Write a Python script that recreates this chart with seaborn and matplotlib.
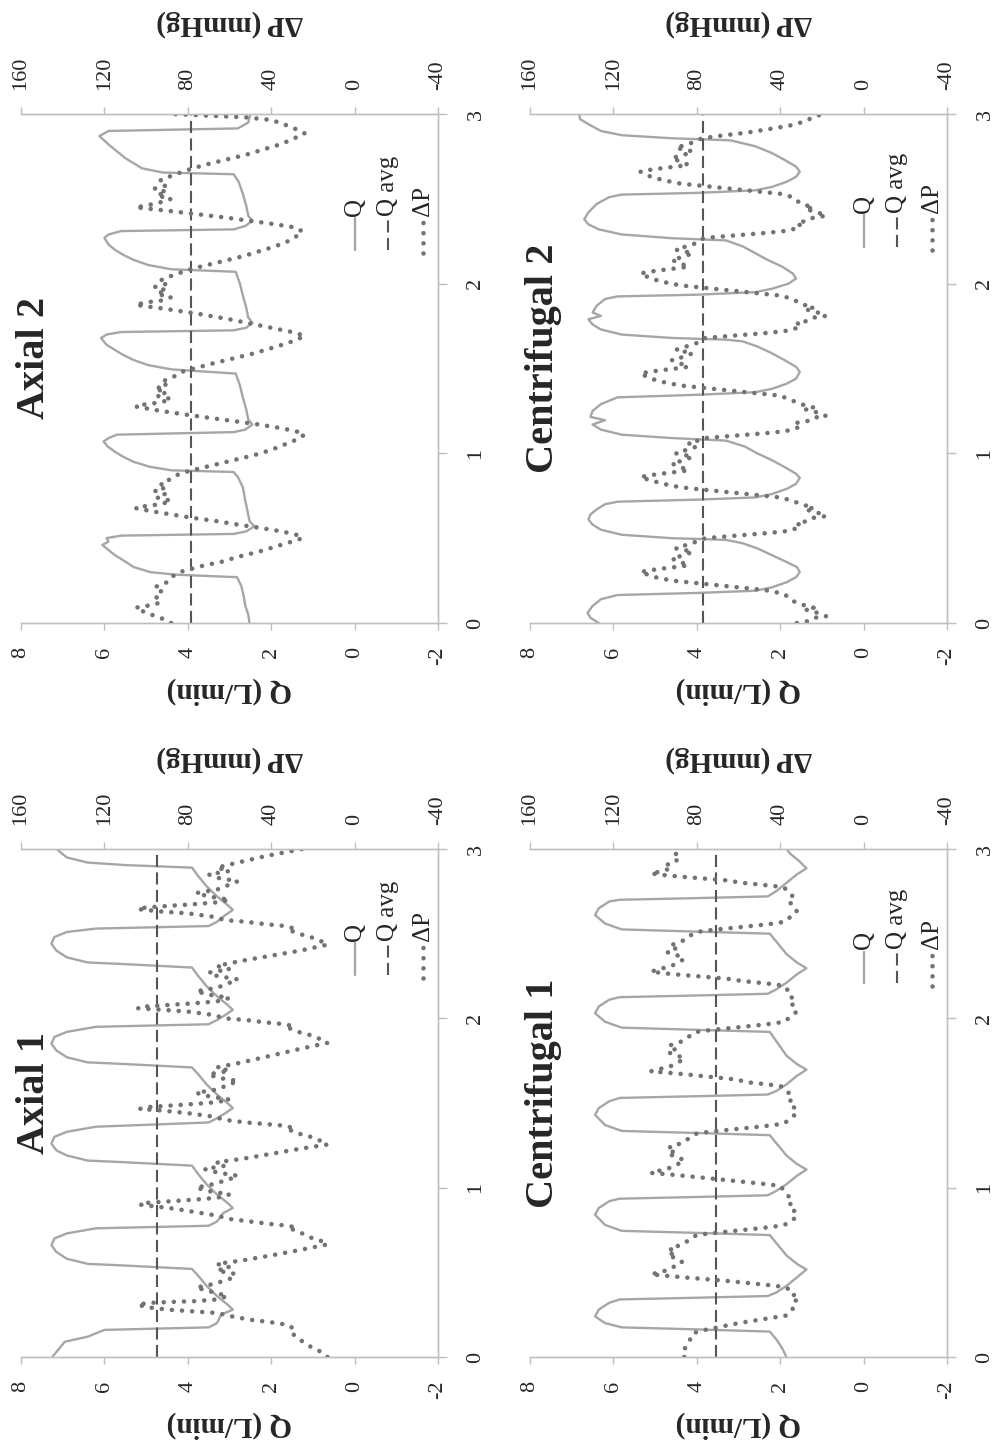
import matplotlib
matplotlib.use('Agg')
import matplotlib.pyplot as plt
import seaborn as sns

# ---------------- data ----------------
panel_titles = ['Axial 1', 'Axial 2', 'Centrifugal 1', 'Centrifugal 2']
q_avg = [4.75, 3.92, 3.53, 3.85]

q_ticks = [8, 6, 4, 2, 0, -2]
dp_ticks = [160, 120, 80, 40, 0, -40]
t_ticks = [0, 1, 2, 3]

# Axial 1
t_q_ax1 = [0.00, 0.03, 0.09, 0.12, 0.16, 0.175, 0.20, 0.25, 0.28, 0.31, 0.36, 0.42, 0.48, 0.52, 0.54, 0.55,
           0.58, 0.62, 0.66, 0.70, 0.73, 0.76, 0.775,
           0.80, 0.85, 0.88, 0.91, 0.96, 1.02, 1.08, 1.13, 1.15, 1.16, 1.19, 1.22, 1.26, 1.30, 1.33, 1.36, 1.385,
           1.41, 1.44, 1.47, 1.50, 1.55, 1.61, 1.67, 1.71, 1.73, 1.74, 1.77, 1.81, 1.85, 1.89, 1.92, 1.95, 1.965,
           1.99, 2.02, 2.05, 2.08, 2.13, 2.19, 2.25, 2.30, 2.32, 2.33, 2.36, 2.40, 2.44, 2.48, 2.51, 2.53, 2.545,
           2.57, 2.61, 2.64, 2.67, 2.72, 2.78, 2.84, 2.89, 2.905, 2.92, 2.95, 3.00]
q_ax1 = [7.25, 7.15, 6.95, 6.4, 6.0, 3.5, 3.3, 3.2, 2.92, 3.05, 3.3, 3.55, 3.75, 3.9, 5.5, 6.4,
         6.9, 7.15, 7.27, 7.2, 6.9, 6.2, 3.5,
         3.3, 3.15, 2.92, 3.05, 3.3, 3.55, 3.75, 3.9, 5.5, 6.4, 6.9, 7.15, 7.27, 7.2, 6.9, 6.2, 3.5,
         3.3, 3.1, 2.92, 3.05, 3.3, 3.55, 3.75, 3.9, 5.5, 6.4, 6.9, 7.15, 7.27, 7.2, 6.9, 6.2, 3.5,
         3.3, 3.1, 2.92, 3.05, 3.3, 3.55, 3.75, 3.9, 5.5, 6.4, 6.9, 7.15, 7.27, 7.2, 6.9, 6.2, 3.5,
         3.3, 3.1, 2.92, 3.05, 3.3, 3.55, 3.75, 3.9, 5.5, 6.4, 6.9, 7.15]
t_dp_ax1 = [0.00, 0.03, 0.06, 0.10, 0.14, 0.165, 0.19, 0.205, 0.22, 0.24, 0.26, 0.27, 0.28, 0.295, 0.31, 0.32,
            0.325, 0.33, 0.34, 0.36, 0.39, 0.41, 0.43, 0.46, 0.49, 0.51, 0.53, 0.55, 0.57, 0.60, 0.63, 0.665,
            0.685, 0.705, 0.735, 0.755, 0.765, 0.775, 0.785, 0.80, 0.815, 0.835, 0.855, 0.875, 0.89, 0.90, 0.91,
            0.92, 0.93, 0.94, 0.96, 0.98, 1.00, 1.02, 1.05, 1.07, 1.09, 1.11, 1.13, 1.15, 1.17, 1.20, 1.23, 1.255,
            1.275, 1.30, 1.32, 1.34, 1.35, 1.365, 1.375, 1.385, 1.40, 1.42, 1.44, 1.455, 1.465, 1.475, 1.485,
            1.495, 1.505, 1.52, 1.54, 1.56, 1.58, 1.61, 1.63, 1.65, 1.67, 1.69, 1.71, 1.74, 1.78, 1.82, 1.855,
            1.875, 1.90, 1.92, 1.94, 1.95, 1.965, 1.975, 1.99, 2.00, 2.02, 2.04, 2.05, 2.06, 2.07, 2.08, 2.09,
            2.10, 2.12, 2.14, 2.16, 2.18, 2.21, 2.23, 2.25, 2.27, 2.29, 2.31, 2.34, 2.37, 2.40, 2.435,
            2.455, 2.48, 2.50, 2.52, 2.53, 2.545, 2.555, 2.57, 2.58, 2.60, 2.62, 2.63, 2.645, 2.655, 2.665,
            2.675, 2.685, 2.70, 2.72, 2.74, 2.76, 2.79, 2.81, 2.83, 2.85, 2.87, 2.89, 2.92, 2.96, 3.00]
dp_ax1 = [13, 16, 21, 26, 30, 29, 32, 40, 50, 59, 66, 78, 90, 100, 104, 98,
          88, 76, 66, 61, 70, 76, 68, 60, 57, 66, 60, 66, 54, 40, 27, 13,
          16, 21, 26, 30, 28, 32, 40, 50, 60, 66, 76, 86, 96, 103, 100,
          88, 76, 66, 60, 70, 76, 68, 60, 56, 66, 72, 62, 66, 54, 40, 26, 13,
          16, 21, 27, 31, 29, 33, 42, 52, 62, 68, 80, 92, 103, 100, 88,
          76, 66, 60, 70, 76, 66, 60, 56, 66, 70, 60, 66, 54, 40, 26, 13,
          16, 21, 27, 31, 29, 33, 42, 52, 62, 68, 80, 92, 104, 100, 88, 76,
          66, 60, 70, 76, 66, 60, 56, 66, 70, 60, 66, 54, 40, 26, 13,
          16, 21, 27, 31, 29, 33, 42, 52, 62, 68, 80, 92, 104, 100, 88,
          76, 66, 60, 70, 76, 66, 60, 56, 66, 70, 60, 66, 56, 42, 25]

# Axial 2
t_q_ax2 = [0.00, 0.05, 0.10, 0.16, 0.22, 0.27, 0.285, 0.30, 0.33, 0.37, 0.40, 0.43, 0.46, 0.48, 0.50, 0.515,
           0.525, 0.54, 0.57, 0.60, 0.65, 0.72, 0.80, 0.86, 0.89, 0.90, 0.92, 0.95, 0.98, 1.01, 1.04, 1.07,
           1.09, 1.11, 1.125, 1.14, 1.17, 1.20, 1.26, 1.33, 1.40, 1.47, 1.495, 1.52, 1.55, 1.58, 1.61, 1.64,
           1.68, 1.70, 1.715, 1.725, 1.74, 1.77, 1.80, 1.86, 1.93, 2.00, 2.07, 2.085, 2.11, 2.14, 2.17, 2.20,
           2.23, 2.27, 2.29, 2.31, 2.32, 2.34, 2.37, 2.40, 2.46, 2.53, 2.60, 2.645, 2.655, 2.68, 2.71, 2.74,
           2.78, 2.82, 2.87, 2.90, 2.915, 2.95, 3.00]
q_ax2 = [2.52, 2.55, 2.62, 2.66, 2.72, 2.82, 4.3, 4.9, 5.3, 5.55, 5.75, 5.9, 6.05, 5.9, 5.95, 5.6,
         2.9, 2.6, 2.4, 2.52, 2.56, 2.62, 2.68, 2.8, 2.9, 4.4, 4.9, 5.3, 5.55, 5.75, 5.92, 6.02,
         5.9, 5.7, 2.9, 2.62, 2.45, 2.55, 2.6, 2.68, 2.75, 2.85, 4.4, 4.95, 5.3, 5.55, 5.75, 5.95,
         6.08, 5.95, 5.6, 2.9, 2.6, 2.45, 2.55, 2.6, 2.68, 2.75, 2.85, 4.4, 4.95, 5.3, 5.55, 5.75,
         5.9, 6.0, 5.9, 5.6, 2.9, 2.62, 2.45, 2.55, 2.6, 2.68, 2.78, 2.9, 4.6, 5.1, 5.3, 5.5,
         5.7, 5.9, 6.12, 5.9, 2.8, 2.55, 2.5]
t_dp_ax2 = [0.00, 0.03, 0.06, 0.09, 0.10, 0.12, 0.15, 0.18, 0.21, 0.24,
            0.27, 0.30, 0.32, 0.34, 0.36, 0.39, 0.42, 0.45, 0.48, 0.50,
            0.52, 0.54, 0.56, 0.58, 0.60, 0.62, 0.64, 0.66, 0.677, 0.69,
            0.70, 0.72, 0.74, 0.76, 0.78, 0.80, 0.82, 0.85, 0.88, 0.90,
            0.93, 0.96, 0.99, 1.02, 1.05, 1.08, 1.11, 1.13, 1.15, 1.17,
            1.19, 1.21, 1.23, 1.25, 1.276, 1.29, 1.30, 1.32, 1.34, 1.36,
            1.38, 1.40, 1.42, 1.45, 1.48, 1.50, 1.53, 1.56, 1.59, 1.62,
            1.65, 1.69, 1.71, 1.73, 1.76, 1.79, 1.82, 1.85, 1.875, 1.89,
            1.90, 1.92, 1.94, 1.96, 1.98, 2.00, 2.02, 2.05, 2.08, 2.10,
            2.13, 2.16, 2.19, 2.22, 2.26, 2.307, 2.33, 2.35, 2.37, 2.39,
            2.41, 2.43, 2.45, 2.46, 2.48, 2.50, 2.52, 2.54, 2.56, 2.58,
            2.61, 2.64, 2.67, 2.70, 2.73, 2.76, 2.79, 2.82, 2.85, 2.886,
            2.91, 2.94, 2.965, 2.98, 2.99, 3.00]
dp_ax2 = [88, 93, 100, 105, 100, 93, 95, 92, 96, 90,
          88, 84, 78, 72, 64, 56, 46, 38, 30, 25,
          28, 35, 45, 56, 66, 78, 88, 98, 105, 100,
          93, 88, 95, 91, 96, 90, 93, 88, 84, 78,
          68, 58, 48, 40, 34, 28, 24, 28, 36, 46,
          58, 70, 82, 93, 105, 100, 93, 88, 95, 90,
          96, 90, 93, 87, 83, 77, 68, 58, 48, 40,
          32, 24, 28, 36, 48, 60, 74, 90, 105, 100,
          93, 88, 95, 90, 96, 90, 93, 87, 80, 74,
          64, 54, 46, 38, 30, 25, 28, 38, 50, 62,
          76, 90, 105, 100, 93, 88, 95, 90, 96, 90,
          93, 87, 80, 72, 62, 52, 44, 36, 30, 24,
          28, 34, 40, 52, 70, 88]

# Centrifugal 1
t_q_c1 = [0.00, 0.05, 0.10, 0.15, 0.163, 0.175, 0.20, 0.24, 0.28, 0.32,
          0.34, 0.35, 0.36, 0.38, 0.42, 0.47, 0.517, 0.55, 0.60, 0.66,
          0.72, 0.733, 0.745, 0.78, 0.84, 0.88, 0.92, 0.935, 0.945, 0.955,
          0.98, 1.02, 1.07, 1.107, 1.14, 1.19, 1.25, 1.31, 1.323, 1.335,
          1.37, 1.43, 1.47, 1.51, 1.53, 1.54, 1.55, 1.57, 1.61, 1.66,
          1.697, 1.73, 1.78, 1.85, 1.92, 1.932, 1.945, 1.98, 2.03, 2.07,
          2.11, 2.125, 2.135, 2.145, 2.17, 2.21, 2.26, 2.296, 2.33, 2.38,
          2.44, 2.50, 2.512, 2.525, 2.56, 2.61, 2.65, 2.69, 2.70, 2.71,
          2.72, 2.75, 2.80, 2.85, 2.886, 2.93, 2.97, 3.00]
q_c1 = [1.85, 1.95, 2.08, 2.25, 4.0, 5.8, 6.2, 6.44, 6.35, 6.1,
        5.85, 4.0, 2.3, 2.1, 1.85, 1.6, 1.37, 1.6, 1.85, 2.05,
        2.25, 4.0, 5.8, 6.2, 6.44, 6.35, 6.1, 5.85, 4.0, 2.3,
        2.1, 1.85, 1.6, 1.37, 1.6, 1.85, 2.05, 2.25, 4.0, 5.8,
        6.2, 6.44, 6.35, 6.1, 5.85, 4.0, 2.3, 2.1, 1.85, 1.6,
        1.37, 1.6, 1.85, 2.05, 2.25, 4.0, 5.8, 6.2, 6.44, 6.35,
        6.1, 5.85, 4.0, 2.3, 2.1, 1.85, 1.6, 1.37, 1.6, 1.85,
        2.05, 2.25, 4.0, 5.8, 6.2, 6.44, 6.35, 6.1, 5.85, 4.0,
        2.3, 2.1, 1.85, 1.6, 1.37, 1.55, 1.75, 1.85]
t_dp_c1 = [0.00, 0.03, 0.08, 0.14, 0.16, 0.18, 0.20, 0.22, 0.235, 0.245, 0.27, 0.30, 0.33, 0.35, 0.37, 0.41,
           0.42, 0.43, 0.44, 0.45, 0.46, 0.47, 0.48, 0.488,
           0.50, 0.51, 0.52, 0.54, 0.56, 0.58, 0.60, 0.62, 0.64, 0.66, 0.68, 0.70, 0.72, 0.73, 0.74, 0.75,
           0.76, 0.77, 0.78, 0.80, 0.83, 0.86, 0.89, 0.92, 0.95, 0.98, 1.01, 1.02, 1.03, 1.04, 1.05, 1.06,
           1.07, 1.08, 1.087,
           1.10, 1.11, 1.12, 1.14, 1.16, 1.18, 1.20, 1.22, 1.24, 1.26, 1.28, 1.30, 1.32, 1.33, 1.34, 1.35,
           1.36, 1.37, 1.38, 1.41, 1.44, 1.47, 1.50, 1.53, 1.56, 1.59, 1.60, 1.61, 1.62, 1.64, 1.65, 1.66,
           1.67, 1.68, 1.687,
           1.70, 1.71, 1.72, 1.74, 1.76, 1.78, 1.80, 1.82, 1.84, 1.86, 1.88, 1.90, 1.92, 1.93, 1.94, 1.95,
           1.96, 1.97, 1.98, 2.01, 2.04, 2.07, 2.10, 2.13, 2.16, 2.19, 2.20, 2.21, 2.22, 2.235, 2.245, 2.255,
           2.265, 2.276,
           2.29, 2.30, 2.31, 2.33, 2.35, 2.37, 2.39, 2.41, 2.43, 2.45, 2.47, 2.49, 2.51, 2.52, 2.53, 2.54,
           2.55, 2.56, 2.57, 2.60, 2.63, 2.66, 2.69, 2.72, 2.75, 2.77, 2.78, 2.79, 2.80, 2.815, 2.825, 2.835,
           2.845, 2.856,
           2.87, 2.89, 2.91, 2.93, 2.95, 2.97, 3.00]
dp_c1 = [86, 87, 84, 82, 76, 68, 60, 50, 42, 37, 35, 33, 32, 35, 33, 37,
         42, 50, 58, 66, 76, 86, 95, 102,
         98, 95, 93, 90, 87, 89, 94, 90, 93, 88, 85, 83, 80, 74, 66, 58,
         50, 43, 38, 35, 32, 33, 36, 34, 36, 38, 40, 46, 54, 62, 70, 78,
         86, 95, 102,
         98, 95, 92, 89, 86, 89, 94, 90, 93, 88, 85, 83, 80, 74, 66, 58,
         50, 43, 38, 35, 32, 33, 36, 34, 36, 38, 40, 46, 54, 62, 70, 78,
         86, 95, 102,
         98, 95, 92, 89, 86, 89, 94, 90, 93, 88, 85, 83, 80, 74, 66, 58,
         50, 43, 38, 35, 32, 33, 36, 34, 36, 38, 42, 50, 58, 66, 76, 86,
         95, 102,
         98, 95, 92, 89, 86, 89, 94, 90, 93, 88, 85, 83, 80, 74, 66, 58,
         50, 43, 38, 35, 32, 33, 36, 34, 36, 38, 42, 50, 58, 66, 76, 86,
         95, 102,
         96, 92, 94, 90, 88, 90, 90]

# Centrifugal 2
t_q_c2 = [0.00, 0.03, 0.06, 0.10, 0.14, 0.165, 0.177, 0.19, 0.21, 0.24,
          0.27, 0.30, 0.33, 0.36, 0.40, 0.44, 0.47, 0.49, 0.50, 0.52,
          0.55, 0.58, 0.61, 0.64, 0.67, 0.70, 0.715, 0.727, 0.74, 0.76,
          0.79, 0.82, 0.855, 0.88, 0.92, 0.96, 1.00, 1.04, 1.075, 1.09,
          1.11, 1.14, 1.17, 1.195, 1.215, 1.25, 1.29, 1.33, 1.345, 1.36,
          1.38, 1.41, 1.44, 1.48, 1.51, 1.55, 1.59, 1.63, 1.66, 1.67,
          1.68, 1.70, 1.73, 1.76, 1.79, 1.81, 1.83, 1.87, 1.91, 1.925,
          1.935, 1.95, 1.97, 2.00, 2.03, 2.06, 2.10, 2.14, 2.18, 2.22,
          2.255, 2.268, 2.29, 2.32, 2.35, 2.38, 2.42, 2.47, 2.51, 2.525,
          2.535, 2.55, 2.57, 2.60, 2.63, 2.66, 2.69, 2.73, 2.77, 2.81,
          2.845, 2.857, 2.875, 2.90, 2.94, 2.97, 3.00]
q_c2 = [6.35, 6.55, 6.62, 6.5, 6.3, 5.9, 4.0, 2.6, 2.2, 1.85,
        1.62, 1.53, 1.6, 1.85, 2.2, 2.55, 2.9, 3.3, 4.6, 5.8,
        6.3, 6.5, 6.6, 6.55, 6.4, 6.2, 5.9, 4.0, 2.6, 2.2,
        1.85, 1.62, 1.53, 1.62, 1.9, 2.2, 2.55, 2.85, 3.3, 4.6,
        5.8, 6.3, 6.5, 6.2, 6.55, 6.5, 6.3, 5.9, 4.0, 2.6,
        2.2, 1.85, 1.62, 1.53, 1.62, 1.9, 2.2, 2.55, 2.9, 3.3,
        4.6, 5.8, 6.3, 6.5, 6.6, 6.3, 6.5, 6.4, 6.2, 5.9,
        4.0, 2.6, 2.2, 1.8, 1.62, 1.7, 1.95, 2.3, 2.6, 2.9,
        3.3, 4.6, 5.8, 6.35, 6.6, 6.7, 6.6, 6.4, 6.1, 5.8,
        4.0, 2.6, 2.2, 1.85, 1.62, 1.53, 1.62, 1.9, 2.2, 2.6,
        3.2, 4.6, 5.8, 6.3, 6.6, 6.8, 6.82]
t_dp_c2 = [0.00, 0.01, 0.03, 0.04, 0.06, 0.08, 0.09, 0.11, 0.13, 0.17, 0.19, 0.20, 0.21, 0.22, 0.23,
           0.24, 0.25, 0.27, 0.30, 0.31, 0.32, 0.33, 0.34, 0.36, 0.38, 0.40, 0.42, 0.44, 0.46, 0.48,
           0.50, 0.51, 0.52, 0.53, 0.54, 0.55, 0.57, 0.59, 0.60, 0.62, 0.63, 0.65, 0.67, 0.68, 0.70,
           0.72, 0.74, 0.75, 0.76, 0.77, 0.78, 0.79, 0.80, 0.82, 0.84, 0.86, 0.87, 0.88, 0.89, 0.90,
           0.92, 0.94, 0.96, 0.98, 1.00, 1.02, 1.04, 1.06, 1.08,
           1.09, 1.10, 1.11, 1.12, 1.13, 1.14, 1.16, 1.18, 1.19, 1.21, 1.22, 1.24, 1.26, 1.27, 1.29,
           1.31, 1.34, 1.35, 1.36, 1.37, 1.38, 1.39, 1.40, 1.42, 1.44, 1.47, 1.48, 1.49, 1.50, 1.51,
           1.53, 1.55, 1.57, 1.59, 1.61, 1.63, 1.65, 1.67,
           1.68, 1.69, 1.70, 1.71, 1.72, 1.73, 1.75, 1.77, 1.78, 1.80, 1.81, 1.83, 1.85, 1.86, 1.88,
           1.91, 1.93, 1.94, 1.95, 1.96, 1.97, 1.98, 1.99, 2.01, 2.03, 2.06, 2.07, 2.08, 2.09, 2.10,
           2.12, 2.14, 2.16, 2.18, 2.20, 2.22, 2.24, 2.26,
           2.27, 2.28, 2.29, 2.30, 2.31, 2.32, 2.34, 2.36, 2.37, 2.39, 2.40, 2.42, 2.44, 2.45, 2.47,
           2.51, 2.53, 2.54, 2.55, 2.56, 2.57, 2.58, 2.59, 2.61, 2.63, 2.66, 2.67, 2.68, 2.69, 2.70,
           2.72, 2.74, 2.76, 2.78, 2.80, 2.82, 2.84, 2.855,
           2.87, 2.89, 2.91, 2.93, 2.95, 2.97, 2.99, 3.00]
dp_c2 = [32, 27, 24, 18, 22, 28, 24, 30, 34, 38, 45, 52, 60, 68, 76,
         84, 92, 100, 107, 103, 97, 90, 84, 88, 92, 86, 82, 90, 85, 80,
         76, 66, 56, 46, 38, 34, 30, 32, 27, 24, 18, 22, 28, 24, 30,
         34, 40, 48, 56, 64, 72, 80, 88, 96, 102, 107, 103, 97, 90, 84,
         88, 92, 86, 82, 90, 85, 80, 84, 78,
         76, 66, 56, 46, 38, 34, 30, 32, 27, 24, 18, 22, 28, 24, 30,
         34, 40, 48, 56, 64, 72, 80, 88, 96, 102, 107, 103, 97, 90, 84,
         88, 92, 86, 82, 90, 85, 80, 78,
         76, 66, 56, 46, 38, 34, 30, 32, 27, 24, 18, 22, 28, 24, 30,
         34, 40, 48, 56, 64, 72, 80, 88, 96, 102, 107, 103, 97, 90, 84,
         88, 92, 86, 82, 90, 85, 80, 78,
         76, 66, 56, 46, 38, 34, 30, 32, 27, 24, 18, 22, 28, 24, 30,
         34, 40, 48, 56, 64, 72, 80, 88, 96, 102, 107, 103, 97, 90, 84,
         88, 92, 86, 82, 90, 85, 80, 78,
         70, 56, 46, 36, 30, 26, 22, 20]

series = {
    'Axial 1': (t_q_ax1, q_ax1, t_dp_ax1, dp_ax1),
    'Axial 2': (t_q_ax2, q_ax2, t_dp_ax2, dp_ax2),
    'Centrifugal 1': (t_q_c1, q_c1, t_dp_c1, dp_c1),
    'Centrifugal 2': (t_q_c2, q_c2, t_dp_c2, dp_c2),
}

# ---------------- layout / style ----------------
W, H = 997, 1447
# pixel boxes (left, top, right, bottom) of each plot area on the (rotated) page
boxes = {
    'Axial 1': (21, 849, 438, 1357),
    'Axial 2': (21, 114, 438, 623),
    'Centrifugal 1': (530, 849, 947, 1357),
    'Centrifugal 2': (530, 114, 947, 623),
}
legend_y = {'Axial 1': 0.752, 'Axial 2': 0.733, 'Centrifugal 1': 0.736, 'Centrifugal 2': 0.739}

Q_COLOR = '#a6a6a6'
AVG_COLOR = '#555555'
DP_COLOR = '#737373'
SPINE = '#bfbfbf'
DOT_LW = 3.3
DOTS = (0, (0.01, 2.2))
DASH = (0, (5.8, 2.6))

sns.set_style('white')
plt.rcParams['font.family'] = ['Liberation Serif', 'DejaVu Serif']
plt.rcParams['axes.unicode_minus'] = False

fig = plt.figure(figsize=(W / 100, H / 100), dpi=100)


def draw_panel(name, qa):
    l, t, r, b = boxes[name]
    t_q, q, t_dp, dp = series[name]
    ax = fig.add_axes([l / W, 1 - b / H, (r - l) / W, (b - t) / H])

    sns.lineplot(x=q, y=t_q, sort=False, estimator=None, ax=ax, color=Q_COLOR, lw=1.7)
    ax.axvline(qa, color=AVG_COLOR, lw=1.5, ls=DASH)
    ax.set_xlim(8, -2)
    ax.set_ylim(0, 3)
    ax.set_xticks(q_ticks)
    ax.set_yticks(t_ticks)
    ax.set_ylabel('')
    ax.yaxis.tick_right()
    ax.tick_params(axis='x', direction='out', length=5, width=1, color=SPINE, pad=12,
                   labelsize=16, labelrotation=90)
    ax.tick_params(axis='y', direction='out', length=6.5, width=1, color=SPINE, pad=14,
                   labelsize=16, labelrotation=90, right=True, left=False)
    for lbl in ax.get_yticklabels():
        lbl.set_va('center')
    ax.set_xlabel('Q (L/min)', fontsize=21, fontweight='bold', rotation=180)
    ax.xaxis.set_label_coords(0.5, -0.106)
    ax.spines['left'].set_visible(False)
    for s in ['right', 'bottom', 'top']:
        ax.spines[s].set_color(SPINE)
        ax.spines[s].set_linewidth(1.0)

    ax2 = ax.twiny()
    sns.lineplot(x=dp, y=t_dp, sort=False, estimator=None, ax=ax2, color=DP_COLOR,
                 lw=DOT_LW, ls=DOTS, dash_capstyle='round')
    ax2.set_xlim(160, -40)
    ax2.set_ylim(0, 3)
    ax2.set_xticks(dp_ticks)
    ax2.tick_params(axis='x', direction='out', length=5, width=1, color=SPINE, pad=12,
                    labelsize=16, labelrotation=90)
    ax2.set_xlabel('ΔP (mmHg)', fontsize=21, fontweight='bold', rotation=180)
    ax2.xaxis.set_label_coords(0.5, 1.163)
    ax2.spines['left'].set_visible(False)
    for s in ['right', 'bottom', 'top']:
        ax2.spines[s].set_color(SPINE)
        ax2.spines[s].set_linewidth(1.0)

    ax2.text(0.033, 0.52, name, transform=ax2.transAxes, rotation=90, ha='center', va='center',
             fontsize=29, fontweight='bold')

    # legend (drawn rotated like the rest of the page)
    y0 = legend_y[name]
    h = 0.062
    xs = [0.80, 0.88, 0.963]
    ax2.plot([xs[0], xs[0]], [y0, y0 + h], transform=ax2.transAxes, color=Q_COLOR, lw=1.7,
             clip_on=False)
    ax2.plot([xs[1], xs[1]], [y0, y0 + h], transform=ax2.transAxes, color=AVG_COLOR, lw=1.5,
             ls=DASH, clip_on=False)
    ax2.plot([xs[2], xs[2]], [y0 - 0.006, y0 + h], transform=ax2.transAxes, color=DP_COLOR,
             lw=DOT_LW, ls=DOTS, dash_capstyle='round', clip_on=False)
    for x, lab in zip(xs, ['Q', 'Q avg', 'ΔP']):
        ax2.text(x, y0 + h + 0.005, lab, transform=ax2.transAxes, rotation=90, ha='center',
                 va='bottom', fontsize=18)


for name, qa in zip(panel_titles, q_avg):
    draw_panel(name, qa)

fig.savefig('out.png', dpi=100, facecolor='white')
